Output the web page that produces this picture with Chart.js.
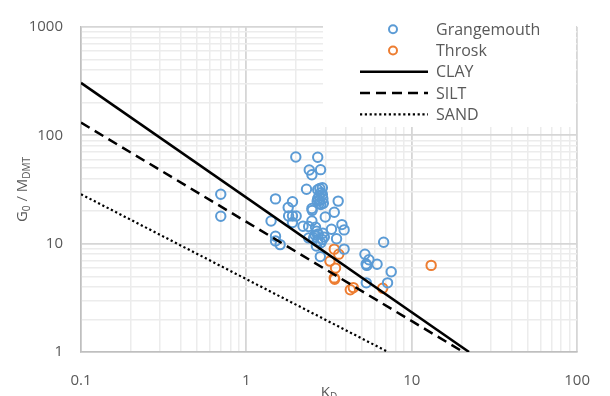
<!DOCTYPE html>
<html lang="en">
<head>
<meta charset="UTF-8" />
<title>G0 / MDMT vs KD</title>
<script src="https://cdn.jsdelivr.net/npm/chart.js@4.4.1/dist/chart.umd.min.js"></script>
<style>
  html, body { margin: 0; padding: 0; background: #fff; }
  #wrap { width: 610px; height: 396px; }
</style>
</head>
<body>
<div id="wrap"><canvas id="chart" width="610" height="396"></canvas></div>
<script>
// KD, G0/MDMT pairs
const grangemouthPoints = [
  [0.70, 28.6], [0.70, 17.9],
  [1.50, 25.9], [1.41, 16.2], [1.50, 11.7], [1.50, 10.6], [1.60, 9.8],
  [1.90, 24.4], [1.79, 21.6], [1.80, 18.0], [1.90, 18.0], [2.00, 18.0], [1.90, 15.7],
  [1.99, 63.0], [2.20, 14.5], [2.40, 47.9], [2.49, 43.2], [2.70, 62.8], [2.81, 48.2],
  [2.31, 31.8], [2.49, 21.1], [2.50, 20.3], [2.49, 16.2], [2.38, 14.4], [2.38, 11.3],
  [2.55, 11.3], [2.62, 14.2], [2.66, 13.0], [2.72, 12.3], [2.60, 12.0],
  [2.70, 31.5], [2.78, 32.3], [2.88, 32.8], [2.82, 29.5], [2.70, 26.0], [2.78, 25.0],
  [2.90, 26.0], [2.82, 23.0], [2.92, 23.6], [2.75, 27.5], [2.88, 28.5], [2.75, 23.5], [2.68, 24.6],
  [3.00, 17.6], [2.96, 11.5], [2.88, 10.9], [2.82, 10.2], [2.65, 9.5], [2.80, 7.6], [2.70, 10.5], [2.90, 12.5],
  [3.40, 19.5], [3.59, 24.7], [3.27, 13.6], [3.51, 11.1], [3.78, 15.0], [3.90, 13.4], [3.90, 8.9],
  [5.21, 8.0], [5.51, 7.1], [5.30, 6.5], [5.35, 6.3], [6.17, 6.45], [6.76, 10.3], [7.51, 5.5],
  [5.31, 4.35], [7.14, 4.35]
];
const throskPoints = [
  [3.40, 8.9], [3.62, 8.0], [3.20, 6.9], [3.46, 5.95], [3.40, 4.83], [3.42, 4.70],
  [4.25, 3.75], [4.43, 3.93], [6.67, 3.88], [13.1, 6.3]
];
// trend lines, start and end points
const clayLine = [[0.1, 305], [22.2, 1]];
const siltLine = [[0.1, 131], [20.5, 1]];
const sandLine = [[0.1, 28.6], [7.2, 1]];

const xMajorTicks = [0.1, 1, 10, 100];
const yMajorTicks = [1, 10, 100, 1000];

const FONT = '"Open Sans", "DejaVu Sans", sans-serif';
const TEXT = '#595959';

const toXY = arr => arr.map(p => ({ x: p[0], y: p[1] }));

// decades plus the 2..9 subdivisions for the grid
function gridValues(majors) {
  const out = [];
  majors.forEach((m, i) => {
    out.push(m);
    if (i < majors.length - 1) {
      for (let k = 2; k <= 9; k++) out.push(+(m * k).toPrecision(6));
    }
  });
  return out;
}
const isMajor = v => Math.abs(Math.log10(v) - Math.round(Math.log10(v))) < 1e-9;

function axisOpts(min, max, majors) {
  return {
    type: 'logarithmic',
    min: min,
    max: max,
    afterBuildTicks: s => { s.ticks = gridValues(majors).map(v => ({ value: v })); },
    ticks: {
      autoSkip: false,
      maxRotation: 0,
      color: TEXT,
      font: { family: FONT, size: 15 },
      callback: v => isMajor(v) ? String(v) : ''
    },
    grid: {
      drawTicks: false,
      color: c => isMajor(c.tick.value) ? '#d6d6d6' : '#ececec',
      lineWidth: c => isMajor(c.tick.value) ? 1.8 : 1.5
    },
    border: { color: '#bfbfbf', width: 1.5 }
  };
}

const xScale = axisOpts(0.1, 100, xMajorTicks);
xScale.position = 'bottom';
xScale.ticks.padding = 20;
xScale.afterFit = s => { s.height = 44; };

const yScale = axisOpts(1, 1000, yMajorTicks);
yScale.ticks.padding = 18;
yScale.afterFit = s => { s.width = 81; };

// text with a subscript part, pieces = [[text, isSub], ...]
function drawSubText(ctx, pieces, cx, baseline) {
  const big = '15px ' + FONT, small = '10px ' + FONT;
  let total = 0;
  pieces.forEach(p => { ctx.font = p[1] ? small : big; total += ctx.measureText(p[0]).width; });
  let x = cx - total / 2;
  ctx.textAlign = 'left';
  ctx.textBaseline = 'alphabetic';
  pieces.forEach(p => {
    ctx.font = p[1] ? small : big;
    ctx.fillText(p[0], x, baseline + (p[1] ? 3 : 0));
    x += ctx.measureText(p[0]).width;
  });
}

const decor = {
  id: 'decor',
  afterDraw(chart) {
    const ctx = chart.ctx;
    const area = chart.chartArea;
    ctx.save();
    ctx.fillStyle = TEXT;
    // x title
    drawSubText(ctx, [['K', false], ['D', true]], (area.left + area.right) / 2, 397);
    // y title
    ctx.save();
    ctx.translate(27, (area.top + area.bottom) / 2);
    ctx.rotate(-Math.PI / 2);
    drawSubText(ctx, [['G', false], ['0', true], [' / M', false], ['DMT', true]], 0, 0);
    ctx.restore();

    // legend box
    ctx.fillStyle = '#ffffff';
    ctx.fillRect(323, 18, 253, 109);
    chart.data.datasets.forEach((ds, i) => {
      const y = 29.3 + i * 21.25;
      ctx.save();
      if (ds.showLine === false) {
        ctx.beginPath();
        ctx.arc(393, y, 4, 0, Math.PI * 2);
        ctx.strokeStyle = ds.borderColor;
        ctx.lineWidth = 2;
        ctx.stroke();
      } else {
        ctx.beginPath();
        ctx.setLineDash(ds.borderDash || []);
        ctx.strokeStyle = ds.borderColor;
        ctx.lineWidth = ds.borderWidth;
        ctx.moveTo(360, y);
        ctx.lineTo(428, y);
        ctx.stroke();
      }
      ctx.restore();
      ctx.fillStyle = TEXT;
      ctx.font = '16px ' + FONT;
      ctx.textAlign = 'left';
      ctx.textBaseline = 'middle';
      ctx.fillText(ds.label, 436, y + 1);
    });
    ctx.restore();
  }
};

function pointSet(label, pts, color) {
  return {
    label: label, data: toXY(pts), showLine: false, order: 2,
    borderColor: color, backgroundColor: 'rgba(0,0,0,0)',
    pointStyle: 'circle', pointRadius: 4.7, pointBorderWidth: 2
  };
}
function lineSet(label, pts, dash, width) {
  return {
    label: label, data: toXY(pts), showLine: true, order: 1,
    borderColor: '#000000', borderWidth: width, borderDash: dash,
    pointRadius: 0, fill: false, tension: 0
  };
}

new Chart(document.getElementById('chart').getContext('2d'), {
  type: 'scatter',
  data: {
    datasets: [
      pointSet('Grangemouth', grangemouthPoints, '#5b9bd5'),
      pointSet('Throsk', throskPoints, '#ed7d31'),
      lineSet('CLAY', clayLine, [], 2.5),
      lineSet('SILT', siltLine, [10, 6], 2.5),
      lineSet('SAND', sandLine, [2.2, 2.6], 2.2)
    ]
  },
  options: {
    responsive: false,
    animation: false,
    devicePixelRatio: 1,
    layout: { padding: { top: 14, right: 28, left: 0, bottom: 0 } },
    plugins: { legend: { display: false }, tooltip: { enabled: false } },
    scales: { x: xScale, y: yScale }
  },
  plugins: [decor]
});
</script>
</body>
</html>
